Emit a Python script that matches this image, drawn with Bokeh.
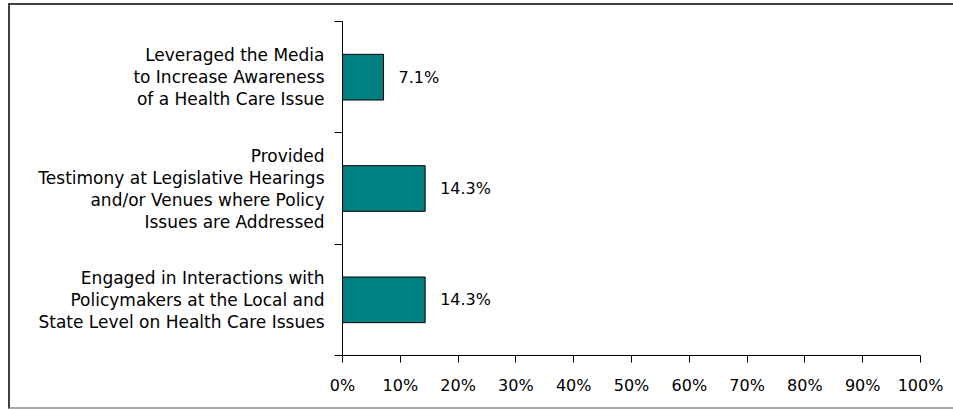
from bokeh.plotting import figure
from bokeh.models import FixedTicker, ColumnDataSource, InlineStyleSheet
from bokeh.core.properties import value
from bokeh.embed import file_html
from bokeh.resources import INLINE

# Data (top to bottom)
categories = [
    "Leveraged the Media\nto Increase Awareness\nof a Health Care Issue",
    "Provided\nTestimony at Legislative Hearings\nand/or Venues where Policy\nIssues are Addressed",
    "Engaged in Interactions with\nPolicymakers at the Local and\nState Level on Health Care Issues",
]
values = [7.1, 14.3, 14.3]
value_labels = ["7.1%", "14.3%", "14.3%"]
x_ticks = [0, 10, 20, 30, 40, 50, 60, 70, 80, 90, 100]
x_tick_labels = ["0%", "10%", "20%", "30%", "40%", "50%", "60%", "70%", "80%", "90%", "100%"]

n = len(categories)
centers = [n - i - 0.5 for i in range(n)]

FONT = "DejaVu Sans"

p = figure(width=953, height=409, x_range=(0, 100), y_range=(0, n),
           output_backend="svg", toolbar_location=None,
           min_border_left=342, min_border_right=33,
           min_border_top=21, min_border_bottom=54)
p.outline_line_color = None
p.xgrid.grid_line_color = None
p.ygrid.grid_line_color = None
p.background_fill_color = "white"
p.border_fill_color = "white"

# surrounding chart box drawn with CSS
p.stylesheets = [InlineStyleSheet(css="""
:host { position: relative; }
:host::after {
  content: "";
  position: absolute;
  left: 8px; top: 3px; width: 945px; height: 406px;
  box-sizing: border-box;
  border-top: 2px solid #404040;
  border-left: 2px solid #404040;
  border-bottom: 2px solid #a9a9a9;
  pointer-events: none;
  z-index: 10;
}
""")]

src = ColumnDataSource(dict(y=centers, v=values, lab=value_labels))
p.hbar(y="y", left=0, right="v", height=0.41, source=src,
       fill_color="#008080", line_color="#000000", line_width=1)
p.text(x="v", y="y", text="lab", source=src, x_offset=15,
       text_baseline="middle", text_align="left",
       text_font=value(FONT), text_font_size="16px",
       text_color="#000000")

# x axis
xa = p.xaxis[0]
xa.ticker = FixedTicker(ticks=x_ticks)
xa.major_label_overrides = {t: l for t, l in zip(x_ticks, x_tick_labels)}
xa.minor_tick_line_color = None
xa.major_tick_in = 0
xa.major_tick_out = 7
xa.major_label_standoff = 13
xa.major_label_text_font = FONT
xa.major_label_text_font_size = "16px"
xa.major_label_text_color = "#000000"
xa.axis_line_color = "black"
xa.major_tick_line_color = "black"

# y axis: labels at centers, ticks at boundaries
ya = p.yaxis[0]
ya.ticker = FixedTicker(ticks=centers, minor_ticks=[0, 1, 2, 3])
ya.major_label_overrides = {c: lab for c, lab in zip(centers, categories)}
ya.major_tick_line_color = None
ya.major_tick_in = 0
ya.major_tick_out = 0
ya.minor_tick_in = 0
ya.minor_tick_out = 8
ya.minor_tick_line_color = "black"
ya.major_label_standoff = 10
ya.major_label_text_font = FONT
ya.major_label_text_font_size = "17px"
ya.major_label_text_line_height = 1.1
ya.major_label_text_color = "#000000"
ya.axis_line_color = "black"

open("out.html", "w").write(file_html(p, INLINE))
